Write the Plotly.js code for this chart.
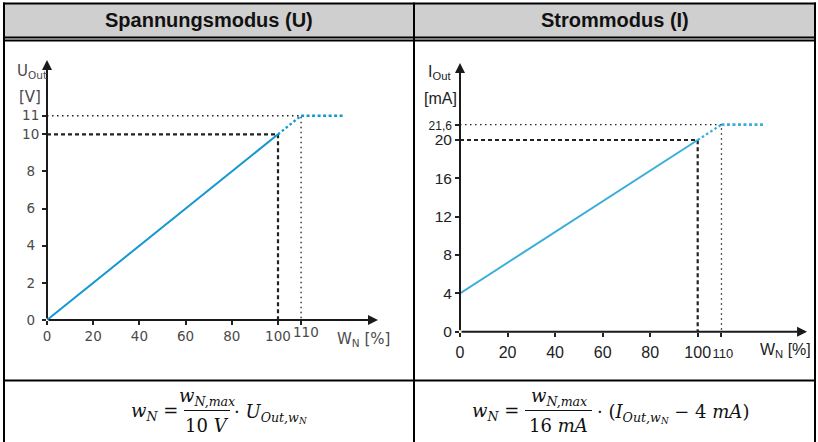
<!DOCTYPE html>
<html>
<head>
<meta charset="utf-8">
<script src="https://cdn.plot.ly/plotly-3.0.1.min.js"></script>
<style>html,body{margin:0;padding:0;background:#fff;}#chart{width:818px;height:442px;}</style>
</head>
<body>
<div id="chart"></div>
<script>
// ---------- DATA ----------
// Spannungsmodus (U)
const uPctLin = [0, 100];
const uOutLin = [0, 10];
const uPctExt = [100, 110];
const uOutExt = [10, 11];
const uPctSat = [110, 128];
const uOutSat = [11, 11];
const uGuide10X = [0, 100, 100];
const uGuide10Y = [10, 10, 0];
const uGuide11X = [0, 110, 110];
const uGuide11Y = [11, 11, 0];
const uXTicks = [0, 20, 40, 60, 80, 100, 110];
const uXTickText = ['0', '20', '40', '60', '80', '100', ''];
const uXShiftedTick = 110;
const uXShiftedText = '110';
const uYTicks = [0, 2, 4, 6, 8, 10, 11];
const uYTickText = ['0\u00A0', '2\u00A0', '4\u00A0', '6\u00A0', '8\u00A0', '10', '11'];

// Strommodus (I)
const iPctLin = [0, 100];
const iOutLin = [4, 20];
const iPctExt = [100, 110];
const iOutExt = [20, 21.6];
const iPctSat = [110, 127.5];
const iOutSat = [21.6, 21.6];
const iGuide20X = [0, 100, 100];
const iGuide20Y = [20, 20, 0];
const iGuide216X = [0, 110, 110];
const iGuide216Y = [21.6, 21.6, 0];
const iXTicks = [0, 20, 40, 60, 80, 100, 110];
const iXTickText = ['0', '20', '40', '60', '80', '100', '<span style="font-size:13px">\u2009110</span>'];
const iYTicks = [0, 4, 8, 12, 16, 20, 21.6];
const iYTickText = ['0', '4', '8', '12', '16', '20', '<span style="font-size:12px">21,6</span>'];

// ---------- LAYOUT HELPERS ----------
const W = 818, H = 442;
const X = p => p / W;
const Y = p => 1 - p / H;

const uMaxX = 143.3, uMaxY = 14.0;
const iMaxX = 146.0, iMaxY = 28.03;

const blueU = '#1497d3';
const blueI = '#3aaed9';
const dark = '#222';

function line(x, y, xa, ya, color, width, dash) {
  return {x: x, y: y, xaxis: xa, yaxis: ya, type: 'scatter', mode: 'lines',
    line: {color: color, width: width, dash: dash || 'solid'}, hoverinfo: 'skip', cliponaxis: false};
}

const traces = [
  line(uGuide11X, uGuide11Y, 'x', 'y', dark, 1.3, '1.5px,3.5px'),
  line(uGuide10X, uGuide10Y, 'x', 'y', dark, 2.2, '4px,3px'),
  line(uPctLin, uOutLin, 'x', 'y', blueU, 2),
  line(uPctExt, uOutExt, 'x', 'y', blueU, 2.3, '2.5px,2.5px'),
  line(uPctSat, uOutSat, 'x', 'y', blueU, 2.6, '3px,2.5px'),

  line(iGuide216X, iGuide216Y, 'x2', 'y2', dark, 1.3, '1.5px,3.5px'),
  line(iGuide20X, iGuide20Y, 'x2', 'y2', dark, 2.2, '4px,3px'),
  line(iPctLin, iOutLin, 'x2', 'y2', blueI, 2),
  line(iPctExt, iOutExt, 'x2', 'y2', blueI, 2.3, '2.5px,2.5px'),
  line(iPctSat, iOutSat, 'x2', 'y2', blueI, 2.6, '3px,2.5px')
];

const fontU = {family: 'DejaVu Sans', size: 13.5, color: '#4a4a4a'};
const fontI = {family: 'Liberation Sans, Arial', size: 16, color: '#222'};
const fontIY = {family: 'Liberation Sans, Arial', size: 15.5, color: '#222'};

function axisBase(extra) {
  return Object.assign({
    showgrid: false, zeroline: false, showline: false,
    ticks: 'outside', ticklen: 4, tickwidth: 1.5, tickcolor: dark,
    tickmode: 'array', tickangle: 0, fixedrange: true
  }, extra);
}

function arrow(xa, ya, x, y, ax, ay) {
  return {xref: xa, yref: ya, axref: xa, ayref: ya, x: x, y: y, ax: ax, ay: ay,
    text: '', showarrow: true, arrowhead: 2, arrowsize: 1, arrowwidth: 2, arrowcolor: '#1a1a1a',
    standoff: 0, startstandoff: 0};
}

function txt(x, y, text, font, xanchor, yanchor) {
  return {xref: 'paper', yref: 'paper', x: X(x), y: Y(y), text: text, showarrow: false,
    font: font, xanchor: xanchor || 'center', yanchor: yanchor || 'middle'};
}

const fHead = {family: 'Liberation Sans, Arial', size: 20, color: '#111'};
const fMath = {family: 'DejaVu Serif', size: 18, color: '#111'};
const fLabU = {family: 'DejaVu Sans', size: 15, color: '#4a4a4a'};
const fLabI = {family: 'Liberation Sans, Arial', size: 16, color: '#222'};

const annotations = [
  arrow('x', 'y', uMaxX, 0, 0, 0),
  arrow('x', 'y', 0, uMaxY, 0, 0),
  arrow('x2', 'y2', iMaxX, 0, 0, 0),
  arrow('x2', 'y2', 0, iMaxY, 0, 0),

  // the crowded "110" label of the voltage chart, placed on its axis value and nudged right
  {xref: 'x', yref: 'paper', x: uXShiftedTick, y: Y(331.5), xshift: 5, text: uXShiftedText,
    showarrow: false, font: fontU, xanchor: 'center', yanchor: 'middle'},

  txt(209, 20, '<b>Spannungsmodus (U)</b>', fHead),
  txt(615, 20, '<b>Strommodus (I)</b>', fHead),

  txt(15, 72, 'U<sub>Out</sub>', fLabU, 'left'),
  txt(30, 97, '[V]', fLabU),
  txt(335, 339, 'W<sub>N</sub> [%]', fLabU, 'left'),

  txt(426, 73, 'I<sub>Out</sub>', fLabI, 'left'),
  txt(440, 98, '[mA]', fLabI),
  txt(758, 350, 'W<sub>N</sub> [%]', fLabI, 'left'),

  txt(180, 412, '<i>w</i><sub><i>N</i></sub> =', fMath, 'right'),
  txt(206.5, 397, '<i>w</i><sub><i>N,max</i></sub>', fMath),
  txt(206.5, 425, '10 <i>V</i>', fMath),
  txt(232, 413, '· <i>U</i><sub><i>Out,w<sub>N</sub></i></sub>', fMath, 'left'),

  txt(521, 412, '<i>w</i><sub><i>N</i></sub> =', fMath, 'right'),
  txt(558.5, 397, '<i>w</i><sub><i>N,max</i></sub>', fMath),
  txt(558.5, 425, '16 <i>mA</i>', fMath),
  txt(595, 413, '· (<i>I</i><sub><i>Out,w<sub>N</sub></i></sub> − 4 <i>mA</i>)', fMath, 'left')
];

function pline(x0, y0, x1, y1, w) {
  return {type: 'line', xref: 'paper', yref: 'paper', x0: X(x0), y0: Y(y0), x1: X(x1), y1: Y(y1),
    line: {color: '#000', width: w}, layer: 'above'};
}

const shapes = [
  {type: 'rect', xref: 'paper', yref: 'paper', x0: X(4), x1: X(815), y0: Y(3.5), y1: Y(37),
    fillcolor: '#cfcfcf', line: {width: 0}, layer: 'below'},
  pline(3, 3.5, 816, 3.5, 2),
  pline(4, 2.5, 4, 442, 2),
  pline(815, 2.5, 815, 442, 2),
  pline(414, 2.5, 414, 442, 2),
  pline(3, 37.5, 816, 37.5, 1.8),
  pline(3, 40.5, 816, 40.5, 1.8),
  pline(3, 380.5, 816, 380.5, 2),
  // fraction bars
  {type: 'line', xref: 'paper', yref: 'paper', x0: X(184), x1: X(230), y0: Y(410.5), y1: Y(410.5), line: {color: '#111', width: 1.2}},
  {type: 'line', xref: 'paper', yref: 'paper', x0: X(525), x1: X(592), y0: Y(410.5), y1: Y(410.5), line: {color: '#111', width: 1.2}}
];

const layout = {
  width: W, height: H,
  margin: {l: 0, r: 0, t: 0, b: 0},
  paper_bgcolor: '#fff', plot_bgcolor: 'rgba(0,0,0,0)',
  showlegend: false,
  xaxis: axisBase({domain: [X(47), X(47 + 2.31 * uMaxX)], range: [0, uMaxX], anchor: 'y',
    tickvals: uXTicks, ticktext: uXTickText, tickfont: fontU}),
  yaxis: axisBase({domain: [Y(320), Y(320 - 18.57 * uMaxY)], range: [0, uMaxY], anchor: 'x',
    tickvals: uYTicks, ticktext: uYTickText, tickfont: fontU}),
  xaxis2: axisBase({domain: [X(460), X(460 + 2.377 * iMaxX)], range: [0, iMaxX], anchor: 'y2',
    tickvals: iXTicks, ticktext: iXTickText, tickfont: fontI, ticklabelstandoff: 2}),
  yaxis2: axisBase({domain: [Y(331.7), Y(331.7 - 9.585 * iMaxY)], range: [0, iMaxY], anchor: 'x2',
    tickvals: iYTicks, ticktext: iYTickText, tickfont: fontIY}),
  annotations: annotations,
  shapes: shapes
};

Plotly.newPlot('chart', traces, layout, {displayModeBar: false});
</script>
</body>
</html>
